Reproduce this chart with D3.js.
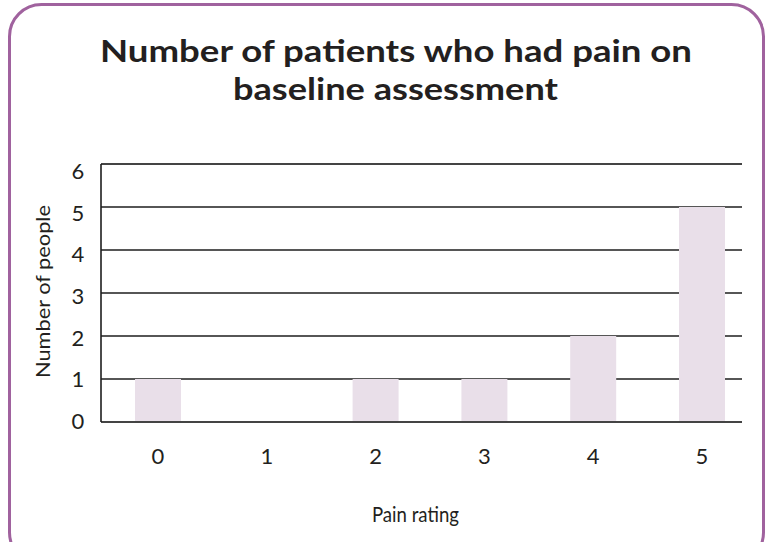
<!DOCTYPE html>
<html>
<head>
<meta charset="utf-8">
<script src="https://cdn.jsdelivr.net/npm/d3@7"></script>
<style>
  body { margin: 0; background: #fff; }
  text { font-family: Lato, "Open Sans", sans-serif; fill: #231f20; }
</style>
</head>
<body>
<script>
    const Width = 767;
    const Height = 542;

    // data
    const categories = ["0", "1", "2", "3", "4", "5"];
    const counts = [1, 0, 1, 1, 2, 5];
    const yTicks = [0, 1, 2, 3, 4, 5, 6];

    const svg = d3.select("body")
     .append("svg")
     .attr("width", Width)
     .attr("height", Height);

    // rounded purple frame
    svg.append("rect")
     .attr("x", 9.5)
     .attr("y", 4.5)
     .attr("width", 754)
     .attr("height", 560)
     .attr("rx", 32)
     .attr("fill", "#fff")
     .attr("stroke", "#a0629e")
     .attr("stroke-width", 3);

    // title (stretched to the wide bold face of the original)
    svg.append("text")
     .attr("x", 100).attr("y", 62)
     .attr("font-size", 31).attr("font-weight", "bold")
     .attr("textLength", 592).attr("lengthAdjust", "spacingAndGlyphs")
     .text("Number of patients who had pain on");
    svg.append("text")
     .attr("x", 233).attr("y", 100)
     .attr("font-size", 31).attr("font-weight", "bold")
     .attr("textLength", 325).attr("lengthAdjust", "spacingAndGlyphs")
     .text("baseline assessment");

    const plotL = 101, plotR = 742, plotT = 164, plotB = 422;

    const y = d3.scaleLinear().domain([0, 6]).range([plotB, plotT]);
    // tick labels sit on a slightly tighter spacing than the lines
    const yLab = d3.scaleLinear().domain([0, 6]).range([421, 171]);
    const x = d3.scalePoint().domain(categories).range([158, 702]);
    const barW = 46;

    // gridlines
    svg.selectAll("line.grid")
     .data(yTicks)
     .enter()
     .append("line")
     .attr("class", "grid")
     .attr("x1", plotL).attr("x2", plotR)
     .attr("y1", d => y(d)).attr("y2", d => y(d))
     .attr("stroke", d => (d === 0 || d === 6) ? "#444" : "#1e1e1e")
     .attr("stroke-width", d => (d === 0 || d === 6) ? 2 : 1.6);

    // bars
    svg.selectAll("rect.bar")
     .data(counts)
     .enter()
     .append("rect")
     .attr("class", "bar")
     .attr("x", (d, i) => x(categories[i]) - barW / 2)
     .attr("y", d => y(d))
     .attr("width", barW)
     .attr("height", d => Math.max(0, plotB - y(d) - 1))
     .attr("fill", "#e9dfe9");

    // left axis line
    svg.append("line")
     .attr("x1", plotL).attr("x2", plotL)
     .attr("y1", plotT).attr("y2", plotB)
     .attr("stroke", "#1e1e1e").attr("stroke-width", 1.6);

    // y tick labels
    svg.selectAll("text.ytick")
     .data(yTicks)
     .enter()
     .append("text")
     .attr("class", "ytick")
     .attr("x", 78)
     .attr("y", d => yLab(d))
     .attr("dy", "0.36em")
     .attr("text-anchor", "middle")
     .attr("font-size", 22)
     .text(d => d);

    // x tick labels
    svg.selectAll("text.xtick")
     .data(categories)
     .enter()
     .append("text")
     .attr("class", "xtick")
     .attr("x", d => x(d))
     .attr("y", 464)
     .attr("text-anchor", "middle")
     .attr("font-size", 22)
     .text(d => d);

    // axis titles
    svg.append("text")
     .attr("x", 372).attr("y", 522)
     .attr("font-size", 22)
     .attr("textLength", 87).attr("lengthAdjust", "spacingAndGlyphs")
     .text("Pain rating");
    svg.append("text")
     .attr("transform", "translate(50,378) rotate(-90)")
     .attr("font-family", "'Liberation Sans', Arial, sans-serif")
     .attr("font-size", 20)
     .attr("textLength", 173).attr("lengthAdjust", "spacingAndGlyphs")
     .text("Number of people");
</script>
</body>
</html>
